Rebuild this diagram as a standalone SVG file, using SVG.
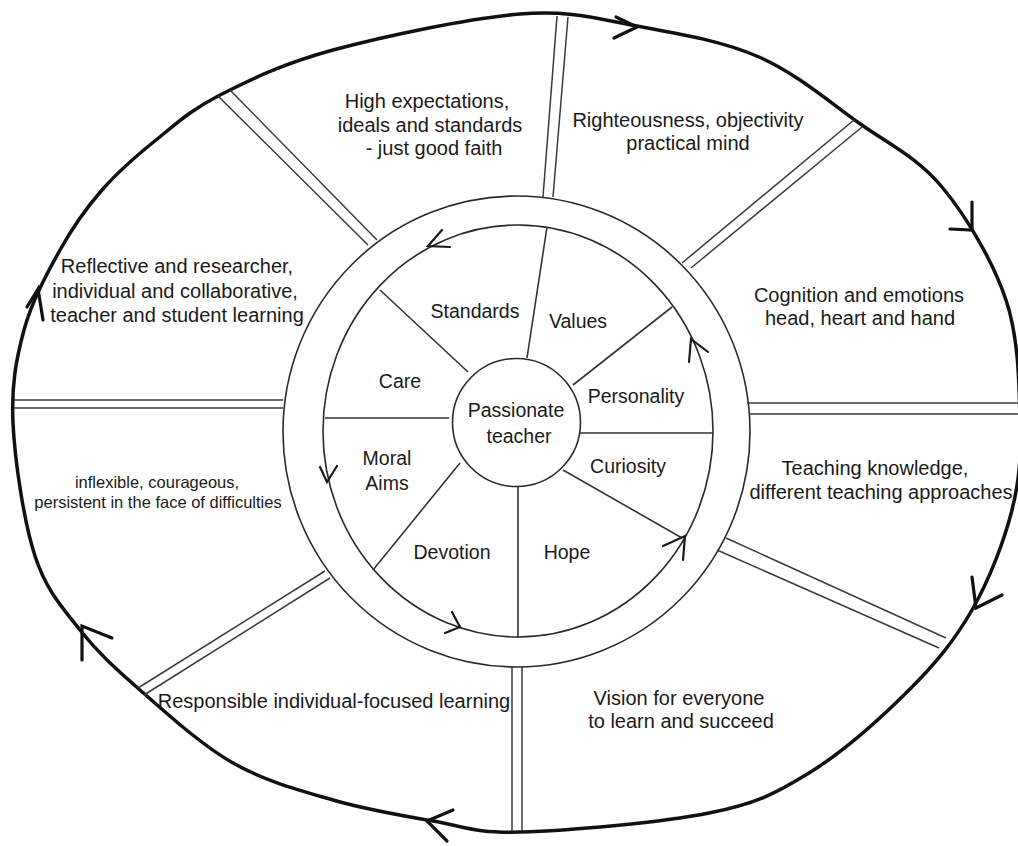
<svg xmlns="http://www.w3.org/2000/svg" width="1018" height="846" viewBox="0 0 1018 846">
<style>
  .bg { fill: #ffffff; }
  .outer { fill: none; stroke: #111; stroke-width: 3.5; }
  .ring { fill: none; stroke: #2a2a2a; stroke-width: 1.6; }
  .spoke { stroke: #333; stroke-width: 1.6; fill: none; }
  .dbl { stroke: #3a3a3a; stroke-width: 1.5; fill: none; }
  .arrO { fill: none; stroke: #111; stroke-width: 3.2; stroke-linecap: round; stroke-linejoin: miter; }
  .arrI { fill: none; stroke: #1a1a1a; stroke-width: 2.2; stroke-linecap: round; stroke-linejoin: miter; }
  text { font-family: "Liberation Sans", Arial, sans-serif; fill: #1a1a1a; text-anchor: middle; }
  .t20 { font-size: 20px; }
  .t19 { font-size: 19.5px; }
  .t16 { font-size: 16.5px; }
</style>
<rect class="bg" x="0" y="0" width="1018" height="846"/>

<g id="outer-cycle">
  <path class="outer" d="M520,14 C570.7,10 597.2,18.8 637,26 C676.8,33.2 722,40.8 759,57 C796,73.2 828.5,101.3 859,123 C889.5,144.7 917.5,157.5 942,187 C966.5,216.5 993,261.2 1006,300 C1019,338.8 1019,385 1020,420 C1021,455 1020,478.3 1012,510 C1004,541.7 989.2,580 972,610 C954.8,640 936.2,662.8 909,690 C881.8,717.2 842.3,752.5 809,773 C775.7,793.5 757.2,803.2 709,813 C660.8,822.8 566,830.7 520,832 C474,833.3 464.2,826.3 433,821 C401.8,815.7 366.3,809.7 333,800 C299.7,790.3 265.2,781.3 233,763 C200.8,744.7 165.5,712.2 140,690 C114.5,667.8 97.5,652.3 80,630 C62.5,607.7 46.2,590.5 35,556 C23.8,521.5 14.8,460.7 13,423 C11.2,385.3 16.2,358.8 24,330 C31.8,301.2 47,273.3 60,250 C73,226.7 86,208.3 102,190 C118,171.7 136.3,155.8 156,140 C175.7,124.2 190.5,110 220,95 C249.5,80 283,63.5 333,50 C383,36.5 469.3,18 520,14 Z"/>
</g>

<g id="ring">
  <ellipse class="ring" cx="516.5" cy="431.5" rx="233.5" ry="235.5"/>
  <ellipse class="ring" cx="518" cy="431" rx="195" ry="206"/>
</g>

<g id="center">
  <circle class="ring" cx="516.5" cy="422.5" r="64"/>
  <text class="t19" x="516" y="417">Passionate</text>
  <text class="t19" x="519" y="443">teacher</text>
</g>

<g id="connectors">
  <!-- inner spokes -->
  <line class="spoke" x1="468" y1="372" x2="380" y2="290"/>
  <line class="spoke" x1="527" y1="358" x2="547" y2="227"/>
  <line class="spoke" x1="573" y1="385" x2="672" y2="307"/>
  <line class="spoke" x1="580" y1="433" x2="713" y2="433"/>
  <line class="spoke" x1="563" y1="470" x2="682" y2="538"/>
  <line class="spoke" x1="518" y1="487" x2="518" y2="638"/>
  <line class="spoke" x1="460" y1="463" x2="373" y2="570"/>
  <line class="spoke" x1="325" y1="418" x2="449" y2="418"/>
  <!-- outer double spokes -->
  <line class="dbl" x1="543" y1="197" x2="557" y2="16"/>
  <line class="dbl" x1="553" y1="197" x2="568" y2="17"/>
  <line class="dbl" x1="368" y1="245" x2="218" y2="96"/>
  <line class="dbl" x1="377" y1="240" x2="230" y2="90"/>
  <line class="dbl" x1="682" y1="263" x2="854" y2="120"/>
  <line class="dbl" x1="691" y1="268" x2="862" y2="127"/>
  <line class="dbl" x1="747" y1="403" x2="1018" y2="403"/>
  <line class="dbl" x1="749" y1="414" x2="1018" y2="414"/>
  <line class="dbl" x1="14" y1="400" x2="283" y2="400"/>
  <line class="dbl" x1="14" y1="408" x2="283" y2="408"/>
  <line class="dbl" x1="726" y1="538" x2="946" y2="638"/>
  <line class="dbl" x1="717" y1="550" x2="939" y2="648"/>
  <line class="dbl" x1="512" y1="667" x2="512" y2="831"/>
  <line class="dbl" x1="522" y1="667" x2="522" y2="831"/>
  <line class="dbl" x1="325" y1="571" x2="138" y2="688"/>
  <line class="dbl" x1="330" y1="578" x2="144" y2="695"/>
  <!-- outer arrowheads (clockwise) -->
  <polyline class="arrO" points="616,17 637,27 614,38"/>
  <polyline class="arrO" points="972,202 972,230 950,229"/>
  <polyline class="arrO" points="972,577 976,608 1002,595"/>
  <polyline class="arrO" points="453,810 427,821 447,841"/>
  <polyline class="arrO" points="82,660 82,626 112,638"/>
  <polyline class="arrO" points="27,307 38,289 43,320"/>
  <!-- inner arrowheads (counter-clockwise) -->
  <polyline class="arrI" points="442,230 428,246 450,247"/>
  <polyline class="arrI" points="320,467 327,482 337,466"/>
  <polyline class="arrI" points="452,612 460,627 445,633"/>
  <polyline class="arrI" points="663,546 685,536 683,560"/>
  <polyline class="arrI" points="689,362 691,339 708,352"/>
</g>

<g id="inner-standards"><text class="t19" x="475" y="318">Standards</text></g>
<g id="inner-values"><text class="t19" x="578" y="328">Values</text></g>
<g id="inner-care"><text class="t19" x="400" y="388">Care</text></g>
<g id="inner-personality"><text class="t19" x="636" y="403">Personality</text></g>
<g id="inner-moral-aims"><text class="t19" x="387" y="465">Moral</text><text class="t19" x="387" y="490">Aims</text></g>
<g id="inner-curiosity"><text class="t19" x="628" y="473">Curiosity</text></g>
<g id="inner-devotion"><text class="t19" x="452" y="559">Devotion</text></g>
<g id="inner-hope"><text class="t19" x="567" y="559">Hope</text></g>

<g id="outer-high-expectations">
  <text class="t20" x="427" y="108">High expectations,</text>
  <text class="t20" x="430" y="132">ideals and standards</text>
  <text class="t20" x="434" y="155">- just good faith</text>
</g>
<g id="outer-righteousness">
  <text class="t20" x="688" y="127">Righteousness, objectivity</text>
  <text class="t20" x="688" y="150">practical mind</text>
</g>
<g id="outer-cognition">
  <text class="t20" x="859" y="302">Cognition and emotions</text>
  <text class="t20" x="860" y="325">head, heart and hand</text>
</g>
<g id="outer-teaching">
  <text class="t20" x="875" y="475">Teaching knowledge,</text>
  <text class="t20" x="881" y="499">different teaching approaches</text>
</g>
<g id="outer-vision">
  <text class="t20" x="679" y="705">Vision for everyone</text>
  <text class="t20" x="681" y="728">to learn and succeed</text>
</g>
<g id="outer-responsible">
  <text class="t20" x="334" y="708">Responsible individual-focused learning</text>
</g>
<g id="outer-inflexible">
  <text class="t16" x="157" y="488">inflexible, courageous,</text>
  <text class="t16" x="158" y="508">persistent in the face of difficulties</text>
</g>
<g id="outer-reflective">
  <text class="t20" x="177" y="273">Reflective and researcher,</text>
  <text class="t20" x="175" y="298">individual and collaborative,</text>
  <text class="t20" x="177" y="322">teacher and student learning</text>
</g>
</svg>
